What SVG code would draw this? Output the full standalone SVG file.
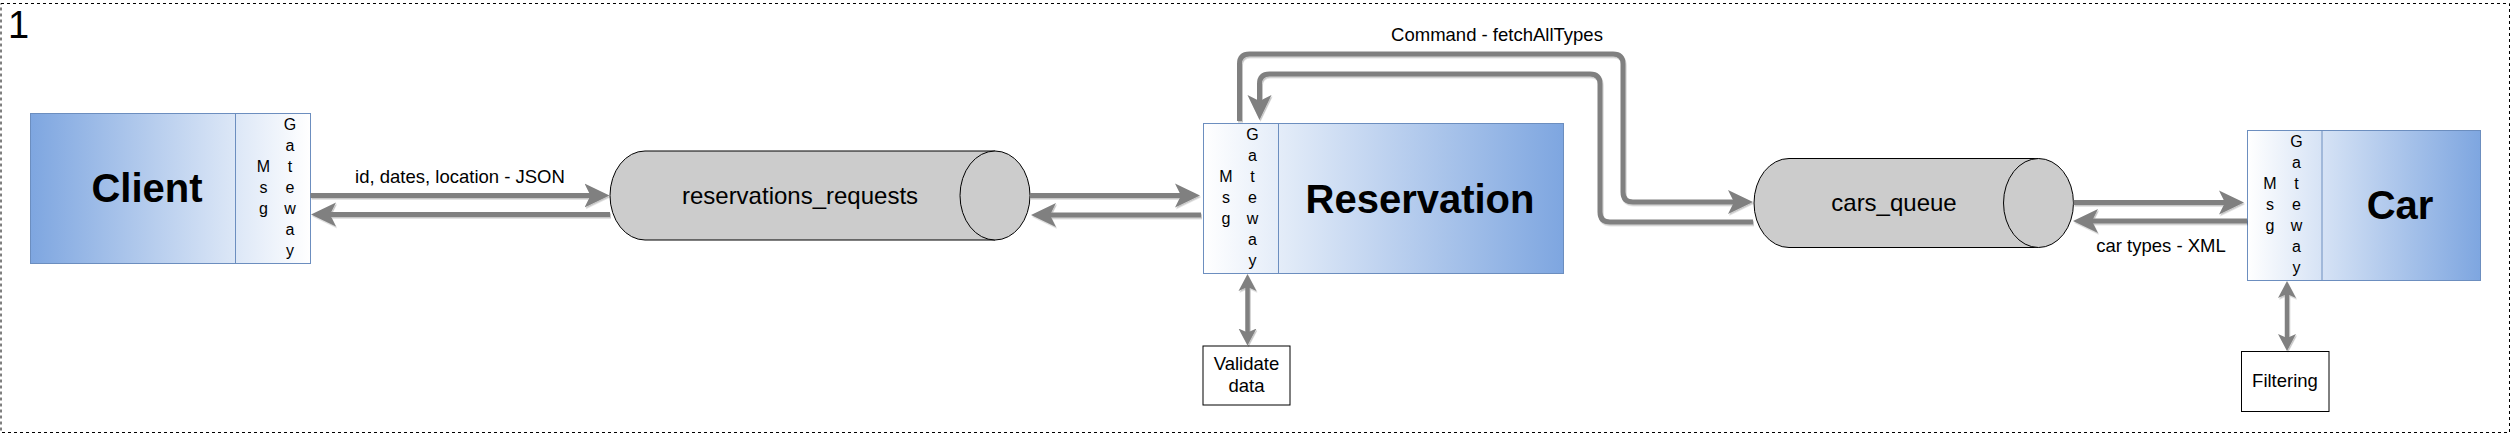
<svg xmlns="http://www.w3.org/2000/svg" width="2511" height="434" viewBox="0 0 2511 434">
<style>
text{font-family:"Liberation Sans",Arial,Helvetica,sans-serif;fill:#000}
.title{font-size:40px;font-weight:bold;text-anchor:middle}
.gw{font-size:16px;text-anchor:middle}
.lbl{font-size:18.5px;text-anchor:middle}
.q{font-size:24px;text-anchor:middle}
.svc{stroke:#6c8ebf;stroke-width:1}
.div{stroke:#6c8ebf;stroke-width:1;fill:none}
.cyl{fill:#cccccc;stroke:#000;stroke-width:1}
.box{fill:#fff;stroke:#000;stroke-width:1}
.con{fill:none;stroke:#808080;stroke-width:5}
.big{marker-end:url(#ah)}
.dbl{stroke-width:4.5;marker-start:url(#ahs);marker-end:url(#ahs)}
</style>
<defs>
<linearGradient id="gL" x1="0" y1="0" x2="1" y2="0"><stop offset="0" stop-color="#7ea6e0"/><stop offset="1" stop-color="#ffffff"/></linearGradient>
<linearGradient id="gR" x1="0" y1="0" x2="1" y2="0"><stop offset="0" stop-color="#ffffff"/><stop offset="1" stop-color="#7ea6e0"/></linearGradient>
<marker id="ah" markerUnits="userSpaceOnUse" markerWidth="26" markerHeight="26" viewBox="0 0 26 26" refX="17" refY="12.5" orient="auto"><path d="M0,0.5 L25,12.5 L0,24.5 L6,12.5 Z" fill="#808080"/></marker>
<marker id="ahs" markerUnits="userSpaceOnUse" markerWidth="18" markerHeight="19" viewBox="0 0 18 19" refX="11" refY="9.5" orient="auto-start-reverse"><path d="M0,0.5 L17,9.5 L0,18.5 L4,9.5 Z" fill="#808080"/></marker>
<filter id="sh" x="-5%" y="-20%" width="110%" height="140%"><feDropShadow dx="1" dy="1.5" stdDeviation="0.6" flood-color="#000" flood-opacity="0.22"/></filter>
</defs>
<rect id="frame" x="1" y="3.5" width="2508.5" height="429" fill="none" stroke="#000" stroke-width="1" stroke-dasharray="3 3"/>
<text x="8" y="38" style="font-size:38px">1</text>

<g id="client">
<rect class="svc" x="30.5" y="113.5" width="280" height="150" fill="url(#gL)"/>
<line class="div" x1="235.5" y1="113.5" x2="235.5" y2="263.5"/>
<text class="title" x="147" y="202">Client</text>
<text class="gw"><tspan x="263.5" y="172">M</tspan><tspan x="263.5" y="193">s</tspan><tspan x="263.5" y="214">g</tspan></text>
<text class="gw"><tspan x="290" y="130">G</tspan><tspan x="290" y="151">a</tspan><tspan x="290" y="172">t</tspan><tspan x="290" y="193">e</tspan><tspan x="290" y="214">w</tspan><tspan x="290" y="235">a</tspan><tspan x="290" y="256">y</tspan></text>
</g>

<g id="reservations_requests">
<path class="cyl" d="M645,151 H995 A35,44.5 0 0 1 995,240 H645 A35,44.5 0 0 1 645,151 Z"/>
<path class="cyl" d="M995,151 A35,44.5 0 0 0 995,240"/>
<text class="q" x="800" y="203.5">reservations_requests</text>
</g>

<g id="reservation">
<rect class="svc" x="1203.5" y="123.5" width="360" height="150" fill="url(#gR)"/>
<line class="div" x1="1278.5" y1="123.5" x2="1278.5" y2="273.5"/>
<text class="title" x="1420" y="212.5">Reservation</text>
<text class="gw"><tspan x="1226" y="182">M</tspan><tspan x="1226" y="203">s</tspan><tspan x="1226" y="224">g</tspan></text>
<text class="gw"><tspan x="1252.5" y="140">G</tspan><tspan x="1252.5" y="161">a</tspan><tspan x="1252.5" y="182">t</tspan><tspan x="1252.5" y="203">e</tspan><tspan x="1252.5" y="224">w</tspan><tspan x="1252.5" y="245">a</tspan><tspan x="1252.5" y="266">y</tspan></text>
</g>

<g id="validate">
<rect class="box" x="1203" y="346" width="87" height="59"/>
<text class="lbl" x="1246.5" y="370">Validate</text>
<text class="lbl" x="1246.5" y="392">data</text>
</g>

<g id="cars_queue">
<path class="cyl" d="M1789,158.5 H2038.5 A35,44.5 0 0 1 2038.5,247.5 H1789 A35,44.5 0 0 1 1789,158.5 Z"/>
<path class="cyl" d="M2038.5,158.5 A35,44.5 0 0 0 2038.5,247.5"/>
<text class="q" x="1894" y="210.5">cars_queue</text>
</g>

<g id="car">
<rect class="svc" x="2247.5" y="130.5" width="233" height="150" fill="url(#gR)"/>
<line class="div" x1="2322" y1="130.5" x2="2322" y2="280.5"/>
<text class="title" x="2400" y="219">Car</text>
<text class="gw"><tspan x="2270" y="189">M</tspan><tspan x="2270" y="210">s</tspan><tspan x="2270" y="231">g</tspan></text>
<text class="gw"><tspan x="2296.5" y="147">G</tspan><tspan x="2296.5" y="168">a</tspan><tspan x="2296.5" y="189">t</tspan><tspan x="2296.5" y="210">e</tspan><tspan x="2296.5" y="231">w</tspan><tspan x="2296.5" y="252">a</tspan><tspan x="2296.5" y="273">y</tspan></text>
</g>

<g id="filtering">
<rect class="box" x="2241.5" y="351.5" width="87.5" height="60"/>
<text class="lbl" x="2285" y="387">Filtering</text>
</g>

<g id="connectors" filter="url(#sh)">
<path class="con big" d="M310.5,195.5 H601.5"/>
<path class="con big" d="M610,214.5 H319"/>
<path class="con big" d="M1030,195.5 H1192"/>
<path class="con big" d="M1201,215 H1039"/>
<path class="con big" d="M1239.5,121 V64 Q1239.5,54 1249.5,54 H1613 Q1623,54 1623,64 V192 Q1623,202 1633,202 H1745"/>
<path class="con big" d="M1753,222 H1610 Q1600,222 1600,212 V84 Q1600,74 1590,74 H1269.5 Q1259.5,74 1259.5,84 V112"/>
<path class="con big" d="M2073.5,202.5 H2236"/>
<path class="con big" d="M2247,221 H2081"/>
<path class="con dbl" d="M1247.5,280 V339.5"/>
<path class="con dbl" d="M2287,287 V345"/>
</g>
<g id="labels">
<text class="lbl" x="460" y="183">id, dates, location - JSON</text>
<text class="lbl" x="1497" y="41">Command - fetchAllTypes</text>
<text class="lbl" x="2161" y="252">car types - XML</text>
</g>
</svg>
